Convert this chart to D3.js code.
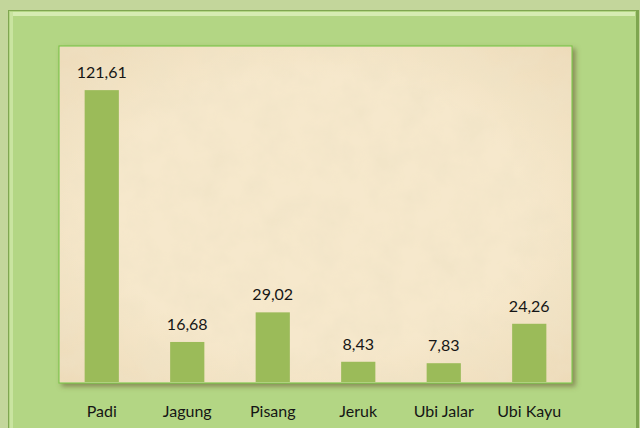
<!DOCTYPE html>
<meta charset="utf-8">
<style>
body { margin: 0; background: #c3d69b; }
svg { display: block; }
.value, .cat { font-family: Lato, "Open Sans", sans-serif; font-size: 16px; fill: #151515; }
</style>
<svg width="640" height="428"></svg>
<script src="https://cdn.jsdelivr.net/npm/d3@7"></script>
<script>

var categories = ["Padi", "Jagung", "Pisang", "Jeruk", "Ubi Jalar", "Ubi Kayu"];
var values = [121.61, 16.68, 29.02, 8.43, 7.83, 24.26];
var valueLabels = ["121,61", "16,68", "29,02", "8,43", "7,83", "24,26"];

var svg = d3.select("svg");
var defs = svg.append("defs");

// parchment texture
var f = defs.append("filter").attr("id", "paper").attr("x", 0).attr("y", 0).attr("width", 1).attr("height", 1);
f.append("feTurbulence").attr("type", "fractalNoise").attr("baseFrequency", 0.035).attr("numOctaves", 4).attr("seed", 3).attr("result", "n");
f.append("feColorMatrix").attr("in", "n").attr("type", "matrix")
  .attr("values", "0 0 0 0 0.86  0 0 0 0 0.76  0 0 0 0 0.56  0 0 0 -1.1 0.72").attr("result", "c");
f.append("feComposite").attr("in", "c").attr("in2", "SourceGraphic").attr("operator", "in").attr("result", "t");
f.append("feMerge").selectAll("feMergeNode").data(["SourceGraphic", "t"]).enter()
  .append("feMergeNode").attr("in", function(d) { return d; });

var sh = defs.append("filter").attr("id", "shadow").attr("x", -0.05).attr("y", -0.05).attr("width", 1.1).attr("height", 1.1);
sh.append("feGaussianBlur").attr("in", "SourceAlpha").attr("stdDeviation", 2.5).attr("result", "b");
sh.append("feOffset").attr("in", "b").attr("dx", 3).attr("dy", 3).attr("result", "o");
sh.append("feFlood").attr("flood-color", "#6b5a3a").attr("flood-opacity", 0.6);
sh.append("feComposite").attr("in2", "o").attr("operator", "in").attr("result", "s");
sh.append("feMerge").selectAll("feMergeNode").data(["s", "SourceGraphic"]).enter()
  .append("feMergeNode").attr("in", function(d) { return d; });

// outer green frame
svg.append("rect").attr("x", 8).attr("y", 10).attr("width", 631).attr("height", 430)
  .attr("fill", "#7fa650");
svg.append("rect").attr("x", 9).attr("y", 11).attr("width", 627).attr("height", 420)
  .attr("fill", "#b3d684");
svg.append("rect").attr("x", 10).attr("y", 12).attr("width", 625).attr("height", 4)
  .attr("fill", "#d6ecb2");
svg.append("rect").attr("x", 10).attr("y", 12).attr("width", 3).attr("height", 420)
  .attr("fill", "#c9e4a0");

var x = d3.scaleBand().domain(categories).range([59, 572]).paddingInner(0.6).paddingOuter(0.3);
var y = d3.scaleLinear().domain([0, 140]).range([382, 46]);

// plot area
var grad = defs.append("radialGradient").attr("id", "vign").attr("cx", 0.5).attr("cy", 0.5).attr("r", 0.75);
grad.append("stop").attr("offset", 0.55).attr("stop-color", "#f6e8cc");
grad.append("stop").attr("offset", 1).attr("stop-color", "#ecd9b6");

svg.append("rect").attr("x", 59).attr("y", 46).attr("width", 513).attr("height", 337)
  .attr("fill", "#f6e8cc").attr("stroke", "#7fc34a").attr("stroke-width", 1.2)
  .attr("filter", "url(#shadow)");
svg.append("rect").attr("x", 60).attr("y", 47).attr("width", 511).attr("height", 335)
  .attr("fill", "url(#vign)").attr("filter", "url(#paper)");

svg.selectAll(".bar").data(values).enter().append("rect")
  .attr("class", "bar")
  .attr("x", function(d, i) { return x(categories[i]); })
  .attr("width", x.bandwidth())
  .attr("y", function(d) { return y(d); })
  .attr("height", function(d) { return y(0) - y(d); })
  .attr("fill", "#9bbb59");

svg.selectAll(".value").data(values).enter().append("text")
  .attr("class", "value")
  .attr("x", function(d, i) { return x(categories[i]) + x.bandwidth() / 2; })
  .attr("y", function(d) { return y(d) - 12; })
  .attr("text-anchor", "middle")
  .text(function(d, i) { return valueLabels[i]; });

svg.selectAll(".cat").data(categories).enter().append("text")
  .attr("class", "cat")
  .attr("x", function(d) { return x(d) + x.bandwidth() / 2; })
  .attr("y", 417)
  .attr("text-anchor", "middle")
  .text(function(d) { return d; });

</script>
